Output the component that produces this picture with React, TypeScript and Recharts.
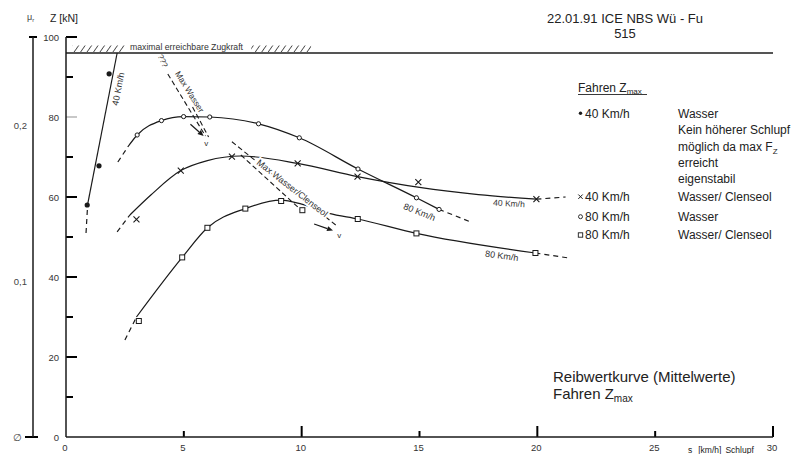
import React from "react";
import {
  ComposedChart,
  XAxis,
  YAxis,
  Line,
  Scatter,
  ReferenceLine,
  ReferenceArea,
  ReferenceDot,
} from "recharts";

type Pt = { x: number; y: number };

const FONT = '"Liberation Sans", Arial, Helvetica, sans-serif';
const INK = "#1a1a1a";
const TICK = "#000";

// axes
const xTicks = [0, 5, 10, 15, 20, 25, 30];
const zTicks = [0, 10, 20, 30, 40, 50, 60, 70, 80, 90, 100];
const MU_TOP = 100 / 389;
const muTicks = [0, 0.1, 0.2];
const zMax = 96;

// 40 Km/h Wasser (filled dots)
const w40Points: Pt[] = [
  { x: 0.9, y: 58 },
  { x: 1.4, y: 67.8 },
  { x: 1.83, y: 90.8 },
];
const w40Line: Pt[] = [
  { x: 0.92, y: 58.2 },
  { x: 2.17, y: 96 },
];
const w40Dash: Pt[] = [
  { x: 0.85, y: 51 },
  { x: 0.92, y: 58.2 },
];

// 80 Km/h Wasser (open circles)
const w80Points: Pt[] = [
  { x: 3.02, y: 75.5 },
  { x: 4.05, y: 79.1 },
  { x: 4.99, y: 80.1 },
  { x: 6.1, y: 80 },
  { x: 8.17, y: 78.3 },
  { x: 9.9, y: 74.8 },
  { x: 12.39, y: 67 },
  { x: 14.87, y: 59.8 },
  { x: 15.83, y: 56.9 },
];
const w80Line: Pt[] = [{ x: 2.62, y: 72.5 }, ...w80Points];
const w80DashStart: Pt[] = [
  { x: 2.2, y: 68.75 },
  { x: 2.62, y: 72.5 },
];
const w80DashEnd: Pt[] = [
  { x: 15.83, y: 56.9 },
  { x: 17.18, y: 53.75 },
];

// 40 Km/h Wasser/Clenseol (crosses)
const c40Points: Pt[] = [
  { x: 2.99, y: 54.4 },
  { x: 4.87, y: 66.6 },
  { x: 7.04, y: 70.1 },
  { x: 9.83, y: 68.4 },
  { x: 12.37, y: 65.1 },
  { x: 14.95, y: 63.7 },
  { x: 19.96, y: 59.45 },
];
const c40Line: Pt[] = [
  { x: 2.71, y: 55.5 },
  { x: 3.6, y: 60.5 },
  { x: 4.87, y: 66.6 },
  { x: 6, y: 69.1 },
  { x: 7.4, y: 70.25 },
  { x: 9.83, y: 68.4 },
  { x: 12.37, y: 65.1 },
  { x: 15, y: 62.4 },
  { x: 17.5, y: 60.6 },
  { x: 19.96, y: 59.45 },
];
const c40DashStart: Pt[] = [
  { x: 2.17, y: 51.3 },
  { x: 2.71, y: 55.5 },
];
const c40DashEnd: Pt[] = [
  { x: 19.96, y: 59.45 },
  { x: 21.2, y: 60 },
];

// 80 Km/h Wasser/Clenseol (squares)
const c80Points: Pt[] = [
  { x: 3.09, y: 29 },
  { x: 4.93, y: 44.9 },
  { x: 6.0, y: 52.3 },
  { x: 7.61, y: 57.1 },
  { x: 9.13, y: 59 },
  { x: 10.03, y: 56.7 },
  { x: 12.38, y: 54.5 },
  { x: 14.87, y: 50.9 },
  { x: 19.92, y: 46 },
];
const c80Line: Pt[] = [
  { x: 2.99, y: 30 },
  { x: 4.93, y: 44.9 },
  { x: 6.0, y: 52.3 },
  { x: 7.61, y: 57.1 },
  { x: 9.13, y: 59.2 },
  { x: 10, y: 58.2 },
  { x: 11.17, y: 55.9 },
  { x: 12.38, y: 54.5 },
  { x: 14.87, y: 50.9 },
  { x: 19.92, y: 46 },
];
const c80DashStart: Pt[] = [
  { x: 2.5, y: 24.25 },
  { x: 2.99, y: 30 },
];
const c80DashEnd: Pt[] = [
  { x: 19.92, y: 46 },
  { x: 21.4, y: 44.7 },
];

// dashed "Max" guides and arrows
const guides: Pt[][] = [
  [{ x: 4.32, y: 90.75 }, { x: 5.92, y: 75.25 }],
  [{ x: 5.37, y: 82.5 }, { x: 6.05, y: 75 }],
  [{ x: 7.04, y: 73.8 }, { x: 11.53, y: 52.6 }],
  [{ x: 7.42, y: 70.5 }, { x: 10.16, y: 55.75 }],
];
const arrows: Pt[][] = [
  [{ x: 5.47, y: 77.2 }, { x: 5.84, y: 75.25 }],
  [{ x: 10.77, y: 52.75 }, { x: 11.33, y: 51.6 }],
];

// hatching above the max line
const hatchSpans = [
  [0.28, 2.5],
  [7.86, 10.4],
];

// text notes in the plot
const notes = [
  { x: 4.1, y: 94, text: "???", angle: 65, size: 8 },
  { x: 5.25, y: 86.3, text: "Max Wasser", angle: 58, size: 8.5 },
  { x: 5.95, y: 73.4, text: "v", angle: 0, size: 8 },
  { x: 2.22, y: 87, text: "40 Km/h", angle: -79, size: 9 },
  { x: 9.6, y: 62.2, text: "Max Wasser/Clenseol", angle: 38, size: 9, halo: true },
  { x: 11.6, y: 50.5, text: "v", angle: 0, size: 8 },
  { x: 15.0, y: 56.2, text: "80 Km/h", angle: 22, size: 9 },
  { x: 18.8, y: 58.4, text: "40 Km/h", angle: 3, size: 8.5 },
  { x: 18.49, y: 45.3, text: "80 Km/h", angle: 8, size: 9 },
];

const XTick = (p: any) => (
  <text x={Number(p.x) - 1} y={Number(p.y) + 13.5} textAnchor="middle" fontSize={9.5} fill="#333" fontFamily={FONT}>
    {p.payload.value}
  </text>
);

const ZTick = (p: any) => {
  const v = Number(p.payload.value);
  if (v % 20 !== 0) return <g />;
  return (
    <text x={Number(p.x) - 7} y={Number(p.y) + 3.5} textAnchor="end" fontSize={9.5} fill="#333" fontFamily={FONT}>
      {v}
    </text>
  );
};

const MuTick = (p: any) => {
  const v = Number(p.payload.value);
  const label = v === 0 ? "∅" : v.toFixed(1).replace(".", ",");
  return (
    <text
      x={Number(p.x) - (v === 0 ? 11 : 6)}
      y={Number(p.y) + 3.5}
      textAnchor="end"
      fontSize={9.5}
      fill="#444"
      fontFamily={FONT}
    >
      {label}
    </text>
  );
};

// short tick marks drawn at the library's own coordinates for each tick value
const hMark = (from: number, to: number, color = TICK) => (p: any) => {
  const x0 = Math.min(Number(p.x1), Number(p.x2));
  const y = Number(p.y1);
  return <line x1={x0 + from} x2={x0 + to} y1={y} y2={y} stroke={color} strokeWidth={2} />;
};
const vMark = (len: number) => (p: any) => {
  const yb = Math.max(Number(p.y1), Number(p.y2));
  const x = Number(p.x1);
  return <line x1={x} x2={x} y1={yb} y2={yb - len} stroke={TICK} strokeWidth={2} />;
};

const dotShape = (p: any) => <circle cx={p.cx} cy={p.cy} r={2.6} fill={INK} />;
const ringShape = (p: any) => <circle cx={p.cx} cy={p.cy} r={2.1} fill="#fff" stroke={INK} strokeWidth={1} />;
const crossShape = (p: any) => (
  <path
    d={`M${p.cx - 3},${p.cy - 3}L${p.cx + 3},${p.cy + 3}M${p.cx + 3},${p.cy - 3}L${p.cx - 3},${p.cy + 3}`}
    stroke={INK}
    strokeWidth={1.1}
  />
);
const squareShape = (p: any) => (
  <rect x={p.cx - 2.5} y={p.cy - 2.5} width={5} height={5} fill="#fff" stroke={INK} strokeWidth={1} />
);

const arrowShape = (p: any) => {
  const { x1, y1, x2, y2 } = p;
  const a = Math.atan2(y2 - y1, x2 - x1);
  const L = 6;
  const W = 2.6;
  const bx = x2 - L * Math.cos(a);
  const by = y2 - L * Math.sin(a);
  const px = -Math.sin(a) * W;
  const py = Math.cos(a) * W;
  const sx = x1 - 6 * Math.cos(a);
  const sy = y1 - 6 * Math.sin(a);
  return (
    <g>
      <line x1={sx} y1={sy} x2={bx} y2={by} stroke={INK} strokeWidth={1.2} />
      <path d={`M${x2},${y2}L${bx + px},${by + py}L${bx - px},${by - py}Z`} fill={INK} />
    </g>
  );
};

const noteLabel = (n: (typeof notes)[number]) => (props: any) => {
  const vb = props.viewBox || {};
  const cx = (vb.x ?? 0) + (vb.width ?? 0) / 2;
  const cy = (vb.y ?? 0) + (vb.height ?? 0) / 2;
  return (
    <text
      x={cx}
      y={cy}
      transform={`rotate(${n.angle} ${cx} ${cy})`}
      textAnchor="middle"
      dominantBaseline="central"
      fontSize={n.size}
      fill="#333"
      fontFamily={FONT}
      stroke={n.halo ? "#fff" : undefined}
      strokeWidth={n.halo ? 4 : undefined}
      paintOrder="stroke"
    >
      {n.text}
    </text>
  );
};

const maxLabel = (props: any) => {
  const vb = props.viewBox || {};
  return (
    <text
      x={(vb.x ?? 0) + 64}
      y={(vb.y ?? 0) - 3}
      fontSize={9}
      fill="#333"
      fontFamily={FONT}
      textLength={113}
      lengthAdjust="spacingAndGlyphs"
    >
      maximal  erreichbare Zugkraft
    </text>
  );
};

const solid = { stroke: INK, strokeWidth: 1.2, dot: false, isAnimationActive: false, yAxisId: "a", dataKey: "y" } as const;
const dashed = { ...solid, type: "linear", strokeDasharray: "5 4" } as const;

const legendRows = [
  { mark: "dot", speed: "40 Km/h", y: 113.3 },
  { mark: "cross", speed: "40 Km/h", y: 196.7, medium: "Wasser/ Clenseol" },
  { mark: "ring", speed: "80 Km/h", y: 216.7, medium: "Wasser" },
  { mark: "square", speed: "80 Km/h", y: 235, medium: "Wasser/ Clenseol" },
];
const wasserNotes = ["Wasser", "Kein höherer Schlupf", "möglich da max F", "erreicht", "eigenstabil"];
const wasserNoteY = [113.3, 130, 146.7, 162.7, 178.3];

const LegendMark = ({ kind, y }: { kind: string; y: number }) => {
  const x = 580.5;
  if (kind === "dot") return <circle cx={x} cy={y} r={1.7} fill={INK} />;
  if (kind === "ring") return <circle cx={x} cy={y} r={2} fill="#fff" stroke={INK} strokeWidth={0.9} />;
  if (kind === "square") return <rect x={x - 2.2} y={y - 2.2} width={4.4} height={4.4} fill="#fff" stroke={INK} strokeWidth={0.9} />;
  return (
    <path d={`M${x - 2.2},${y - 2.2}L${x + 2.2},${y + 2.2}M${x + 2.2},${y - 2.2}L${x - 2.2},${y + 2.2}`} stroke={INK} strokeWidth={1} />
  );
};

export default function App() {
  return (
    <div style={{ position: "absolute", left: 0, top: 0, width: 794, height: 454, background: "#fff", fontFamily: FONT }}>
      <ComposedChart width={794} height={454} margin={{ top: 37, right: 21, bottom: 0, left: 0 }}>
        <defs>
          <pattern id="hatch" width={5.3} height={10} patternUnits="userSpaceOnUse" patternTransform="rotate(35)">
            <line x1={0} y1={0} x2={0} y2={10} stroke={INK} strokeWidth={1.4} />
          </pattern>
        </defs>
        <XAxis
          type="number"
          dataKey="x"
          domain={[0, 30]}
          ticks={xTicks}
          interval={0}
          allowDataOverflow
          height={17}
          tickSize={0}
          tickMargin={0}
          tickLine={false}
          axisLine={{ stroke: INK, strokeWidth: 1.5 }}
          tick={XTick}
        />
        <YAxis
          yAxisId="a"
          type="number"
          dataKey="y"
          domain={[0, 100]}
          ticks={zTicks}
          interval={0}
          allowDataOverflow
          width={33}
          tickSize={0}
          tickMargin={0}
          tickLine={false}
          axisLine={{ stroke: INK, strokeWidth: 1.5 }}
          tick={ZTick}
        />
        <YAxis
          yAxisId="b"
          type="number"
          domain={[0, MU_TOP]}
          ticks={muTicks}
          interval={0}
          allowDataOverflow
          width={33}
          tickSize={0}
          tickMargin={0}
          tickLine={false}
          axisLine={{ stroke: INK, strokeWidth: 1.5 }}
          tick={MuTick}
        />

        {/* tick marks */}
        {zTicks
          .filter((v) => v > 0)
          .map((v) => (
            <ReferenceLine
              key={`zt${v}`}
              yAxisId="a"
              y={v}
              shape={hMark(0, v % 20 === 0 ? 11 : 7, v === 80 ? "#c8c8c8" : TICK)}
            />
          ))}
        {xTicks
          .filter((v) => v > 0)
          .map((v) => (
            <ReferenceLine key={`xt${v}`} yAxisId="a" x={v} shape={vMark(v % 10 === 0 ? 11 : 6)} />
          ))}
        <ReferenceLine yAxisId="b" y={0} shape={hMark(-41, -28)} />
        <ReferenceLine yAxisId="b" y={MU_TOP} shape={hMark(-37, -29)} />

        {hatchSpans.map(([a, b], i) => (
          <ReferenceArea
            key={`h${i}`}
            yAxisId="a"
            x1={a}
            x2={b}
            y1={96.1}
            y2={97.9}
            fill="url(#hatch)"
            fillOpacity={1}
            stroke="none"
          />
        ))}
        <ReferenceLine yAxisId="a" y={zMax} stroke="#555" strokeWidth={2} label={maxLabel} />

        {guides.map((g, i) => (
          <ReferenceLine
            key={`g${i}`}
            yAxisId="a"
            segment={g}
            stroke={INK}
            strokeWidth={1.1}
            strokeDasharray="5 3"
          />
        ))}
        {arrows.map((a, i) => (
          <ReferenceLine key={`a${i}`} yAxisId="a" segment={a} shape={arrowShape} />
        ))}

        <Line {...solid} type="linear" data={w40Line} />
        <Line {...dashed} data={w40Dash} />
        <Line {...solid} type="monotone" data={w80Line} />
        <Line {...dashed} data={w80DashStart} />
        <Line {...dashed} data={w80DashEnd} />
        <Line {...solid} type="monotone" data={c40Line} />
        <Line {...dashed} data={c40DashStart} />
        <Line {...dashed} data={c40DashEnd} />
        <Line {...solid} type="monotone" data={c80Line} />
        <Line {...dashed} data={c80DashStart} />
        <Line {...dashed} data={c80DashEnd} />

        {notes.map((n, i) => (
          <ReferenceDot
            key={`n${i}`}
            yAxisId="a"
            x={n.x}
            y={n.y}
            r={0}
            fill="none"
            stroke="none"
            label={{ content: noteLabel(n) }}
          />
        ))}

        <Scatter yAxisId="a" dataKey="y" data={w40Points} shape={dotShape} isAnimationActive={false} />
        <Scatter yAxisId="a" dataKey="y" data={w80Points} shape={ringShape} isAnimationActive={false} />
        <Scatter yAxisId="a" dataKey="y" data={c40Points} shape={crossShape} isAnimationActive={false} />
        <Scatter yAxisId="a" dataKey="y" data={c80Points} shape={squareShape} isAnimationActive={false} />
      </ComposedChart>

      <svg
        width={794}
        height={454}
        style={{ position: "absolute", left: 0, top: 0, pointerEvents: "none" }}
        fontFamily={FONT}
        fill="#222"
      >
        <text x={27} y={20} fontSize={9} fill="#444">
          μ<tspan fontSize={6} dy={2}>r</tspan>
        </text>
        <text x={50} y={22} fontSize={10.5}>
          Z [kN]
        </text>

        <text x={625} y={23} fontSize={13} textAnchor="middle">
          22.01.91 ICE NBS Wü - Fu
        </text>
        <text x={625} y={38} fontSize={13} textAnchor="middle">
          515
        </text>

        <text x={578} y={92} fontSize={12}>
          Fahren Z<tspan fontSize={8} dy={2}>max</tspan>
        </text>
        <line x1={578} x2={647} y1={94.5} y2={94.5} stroke="#222" strokeWidth={0.9} />

        {legendRows.map((r, i) => (
          <g key={`l${i}`}>
            <LegendMark kind={r.mark} y={r.y} />
            <text x={585} y={r.y + 4.3} fontSize={12}>
              {r.speed}
            </text>
            {r.medium && (
              <text x={678} y={r.y + 4.3} fontSize={12}>
                {r.medium}
              </text>
            )}
          </g>
        ))}
        {wasserNotes.map((t, i) => (
          <text key={`w${i}`} x={678} y={wasserNoteY[i] + 4.3} fontSize={12}>
            {t}
            {i === 2 && (
              <tspan fontSize={8} dy={2.5}>
                Z
              </tspan>
            )}
          </text>
        ))}

        <text x={553} y={382} fontSize={15}>
          Reibwertkurve (Mittelwerte)
        </text>
        <text x={553} y={399} fontSize={15}>
          Fahren Z<tspan fontSize={10} dy={3}>max</tspan>
        </text>

        <text x={688} y={453} fontSize={8.5}>
          s<tspan dx={6}>[km/h]</tspan>
          <tspan dx={4}>Schlupf</tspan>
        </text>
      </svg>
    </div>
  );
}
